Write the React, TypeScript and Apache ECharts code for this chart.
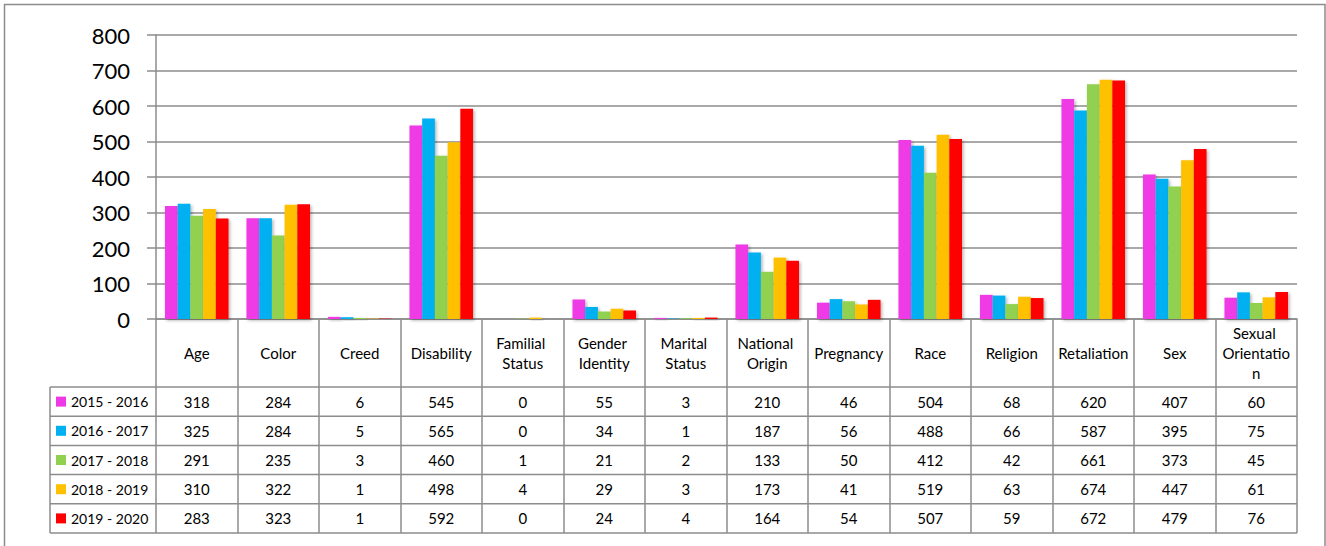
import React, { useEffect, useRef } from "react";
import * as echarts from "echarts";

const categories = [
  "Age", "Color", "Creed", "Disability", "Familial Status", "Gender Identity",
  "Marital Status", "National Origin", "Pregnancy", "Race", "Religion",
  "Retaliation", "Sex", "Sexual Orientation",
];
const seriesNames = ["2015 - 2016", "2016 - 2017", "2017 - 2018", "2018 - 2019", "2019 - 2020"];
const v2015 = [318, 284, 6, 545, 0, 55, 3, 210, 46, 504, 68, 620, 407, 60];
const v2016 = [325, 284, 5, 565, 0, 34, 1, 187, 56, 488, 66, 587, 395, 75];
const v2017 = [291, 235, 3, 460, 1, 21, 2, 133, 50, 412, 42, 661, 373, 45];
const v2018 = [310, 322, 1, 498, 4, 29, 3, 173, 41, 519, 63, 674, 447, 61];
const v2019 = [283, 323, 1, 592, 0, 24, 4, 164, 54, 507, 59, 672, 479, 76];
const seriesValues = [v2015, v2016, v2017, v2018, v2019];
const colors = ["#EE3AE6", "#00B0F0", "#92D050", "#FFC000", "#FF0000"];
const yTicks = { min: 0, max: 800, interval: 100 };

const FONT = "Lato, 'Open Sans', sans-serif";
const LINE = "#8c8c8c";

export default function App() {
  const ref = useRef<HTMLDivElement>(null);
  useEffect(() => {
    if (!ref.current) return;
    const chart = echarts.init(ref.current, null, { renderer: "svg" });

    const W = 1326;
    const gridLeft = 156;
    const gridRight = 1297;
    const gridTop = 35;
    const axisY = 319;
    const headerBottom = 387;
    const tableBottom = 533;
    const legendLeft = 50;
    const rowH = (tableBottom - headerBottom) / seriesNames.length;

    const xAxes: any[] = [
      {
        type: "category",
        data: categories,
        position: "bottom",
        axisLine: { show: true, lineStyle: { color: LINE, width: 1.5 } },
        axisTick: {
          show: true,
          interval: 0,
          length: tableBottom - axisY,
          lineStyle: { color: LINE, width: 1.5 },
        },
        axisLabel: {
          interval: 0,
          margin: (headerBottom - axisY) / 2,
          verticalAlign: "middle",
          color: "#000",
          fontFamily: FONT,
          fontSize: 15,
          lineHeight: 20,
          width: 72,
          overflow: "break",
        },
      },
    ];
    seriesNames.forEach((_, r) => {
      xAxes.push({
        type: "category",
        data: categories,
        position: "bottom",
        offset: 0,
        axisLine: { show: false },
        axisTick: { show: false },
        axisLabel: {
          interval: 0,
          margin: headerBottom - axisY + rowH * (r + 0.5),
          verticalAlign: "middle",
          color: "#000",
          fontFamily: FONT,
          fontSize: 15,
          formatter: (_v: string, idx: number) => String(seriesValues[r][idx]),
        },
      });
    });

    const graphic: any[] = [
      {
        type: "rect",
        shape: { x: 4.5, y: 4.5, width: 1320.5, height: 600 },
        style: { fill: "none", stroke: LINE, lineWidth: 1.5 },
        silent: true,
      },
      {
        type: "line",
        shape: { x1: legendLeft, y1: headerBottom, x2: legendLeft, y2: tableBottom },
        style: { stroke: LINE, lineWidth: 1.5 },
      },
    ];
    for (let i = 0; i <= seriesNames.length; i++) {
      const y = headerBottom + rowH * i;
      graphic.push({
        type: "line",
        shape: { x1: legendLeft, y1: y, x2: gridRight, y2: y },
        style: { stroke: LINE, lineWidth: 1.5 },
      });
    }

    const legends = seriesNames.map((name, r) => ({
      orient: "vertical",
      left: 56,
      top: headerBottom + rowH * (r + 0.5) - 7,
      padding: 0,
      itemWidth: 10,
      itemHeight: 10,
      icon: "rect",
      data: [name],
      textStyle: { color: "#000", fontSize: 14, lineHeight: 14, fontFamily: FONT },
      selectedMode: false,
    }));

    chart.setOption({
      animation: false,
      color: colors,
      textStyle: { fontFamily: FONT },
      grid: {
        left: gridLeft,
        right: W - gridRight,
        top: gridTop,
        bottom: 546 - axisY,
        containLabel: false,
      },
      legend: legends,
      xAxis: xAxes,
      yAxis: {
        type: "value",
        min: yTicks.min,
        max: yTicks.max,
        interval: yTicks.interval,
        axisLine: { show: true, lineStyle: { color: LINE, width: 1.5 } },
        axisTick: { show: true, length: 9, lineStyle: { color: LINE, width: 1.5 } },
        splitLine: { show: true, lineStyle: { color: LINE, width: 1.5 } },
        axisLabel: { color: "#000", fontSize: 22, fontFamily: FONT, margin: 26 },
      },
      series: seriesNames.map((name, i) => ({
        name,
        type: "bar",
        xAxisIndex: 0,
        data: seriesValues[i],
        barGap: "0%",
        barCategoryGap: "22%",
        itemStyle: {
          color: colors[i],
          shadowColor: "rgba(0,0,0,0.3)",
          shadowBlur: 3,
          shadowOffsetX: 1.5,
          shadowOffsetY: 1.5,
        },
      })),
      graphic,
    });
    return () => chart.dispose();
  }, []);
  return (
    <div
      ref={ref}
      style={{ position: "fixed", left: 0, top: 0, width: 1326, height: 546, background: "#fff" }}
    />
  );
}
